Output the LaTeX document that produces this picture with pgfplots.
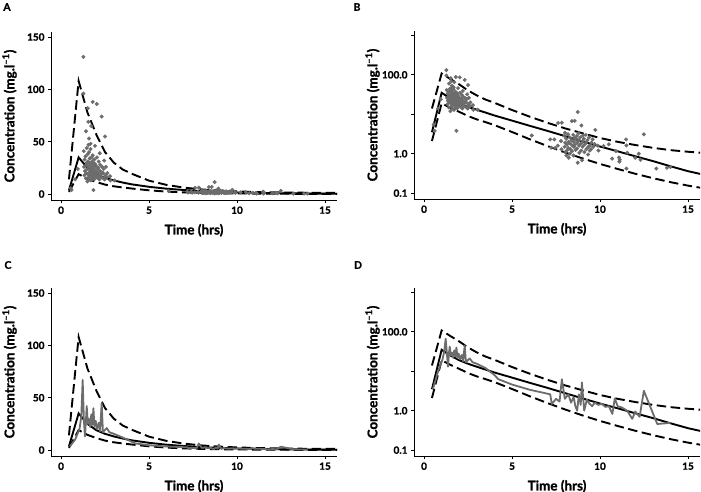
\documentclass[border=0pt]{standalone}
\usepackage{pgfplots}
\pgfplotsset{compat=1.18}
\usepackage{pgfplotstable}
\usepackage{fontspec}
\setmainfont{Lato}[BoldFeatures={FakeBold=1.3}]

\definecolor{obsgray}{RGB}{108,108,108}

% model percentiles: 5th, median, 95th
\pgfplotstableread{
x lo med hi
0.45 2.1 3.5 14
1.0 19 35 108
1.5 14.5 25 78
2.0 11.5 19 57
2.5 9.0 15.5 40
3.0 7.4 13 30
3.5 6.3 11 23.5
4.0 5.3 9.3 19.5
5.0 3.55 6.9 12.8
6.0 2.33 5.1 8.7
7.0 1.57 3.8 6.1
8.0 1.08 2.8 4.4
9.0 0.76 2.05 3.3
10.0 0.55 1.52 2.5
11.0 0.41 1.15 2.0
12.0 0.31 0.86 1.66
13.0 0.24 0.65 1.41
14.0 0.19 0.48 1.23
15.0 0.155 0.36 1.12
15.8 0.135 0.30 1.05
}\curves

% observed concentrations
\pgfplotstableread{
x y
0.60 3.8
0.55 5.5
0.80 14
0.95 24
1.27 131
1.27 96
1.52 82
1.80 88
2.03 86
2.31 74
1.55 69
1.72 65
2.50 55
1.59 53
1.42 60
1.68 48
1.93 46
1.84 3.8
1.33 18
1.31 26
1.34 33
1.29 41
1.36 22
1.41 15
1.44 28
1.39 36
1.46 44
1.43 20
1.47 30
1.50 12
1.52 19
1.49 24
1.53 31
1.51 38
1.56 47
1.54 27
1.57 16
1.61 14
1.62 21
1.60 26
1.63 34
1.59 40
1.64 29
1.66 18
1.65 23
1.70 13
1.72 17
1.69 22
1.71 28
1.73 35
1.68 43
1.74 25
1.76 20
1.75 31
1.79 15
1.81 19
1.78 24
1.82 30
1.80 37
1.83 27
1.86 21
1.85 17
1.88 14
1.91 18
1.90 23
1.92 29
1.89 33
1.94 26
1.96 20
2.00 16
2.02 21
1.99 27
2.04 35
2.06 19
2.08 24
2.11 15
2.10 20
2.12 25
2.14 31
2.13 18
2.19 17
2.21 22
2.22 28
2.18 14
2.29 16
2.31 21
2.33 26
2.28 19
2.41 15
2.39 20
2.42 24
2.52 18
2.55 26
2.48 14
2.61 16
2.63 20
2.80 13
2.78 17
3.05 13
2.20 39
2.45 32
6.12 2.9
7.17 2.3
7.22 1.42
7.40 2.3
7.45 1.4
7.62 6.0
7.60 1.6
7.83 6.1
7.78 2.1
7.81 1.3
7.98 2.8
8.02 1.9
7.99 1.5
8.03 1.1
8.01 3.4
8.08 2.4
8.12 1.7
8.11 1.2
8.09 0.9
8.18 3.1
8.21 2.0
8.19 1.4
8.22 0.79
8.28 2.6
8.31 1.8
8.32 1.3
8.29 1.0
8.40 6.7
8.38 2.2
8.42 1.6
8.41 1.15
8.48 3.0
8.51 2.0
8.52 1.5
8.49 0.9
8.53 2.5
8.56 6.8
8.62 2.4
8.58 1.7
8.61 1.25
8.73 11.4
8.68 2.8
8.71 1.9
8.69 1.35
8.73 0.59
8.79 2.2
8.81 1.6
8.82 1.05
8.78 3.3
8.94 5.2
8.88 2.6
8.91 1.8
8.92 1.2
8.97 0.68
9.02 2.1
9.01 1.5
9.03 2.9
9.08 2.4
9.12 1.7
9.11 1.1
9.19 3.0
9.21 1.9
9.22 1.3
9.28 2.2
9.31 1.45
9.32 0.95
9.38 2.6
9.41 1.6
9.42 1.2
9.51 1.9
9.49 1.3
9.58 2.3
9.61 1.5
9.73 4.0
9.69 1.75
9.88 1.6
9.91 1.2
10.2 1.56
10.5 1.73
10.69 0.75
10.9 1.16
11.08 0.8
11.10 0.63
11.12 0.7
11.48 2.3
11.50 1.62
11.54 1.06
11.50 0.42
12.0 0.79
12.2 1.0
12.3 0.7
12.49 3.1
13.2 0.42
13.8 0.44
14.0 0.46
}\obs

% observed profile (connected)
\pgfplotstableread{
x y
0.50 3.5
0.80 10
1.05 20
1.15 32
1.23 67
1.30 28
1.36 13
1.42 30
1.46 42
1.52 25
1.58 30
1.65 22
1.72 34
1.78 24
1.84 40
1.90 22
1.97 28
2.05 20
2.15 26
2.22 18
2.31 45
2.38 17
2.48 19
2.60 21
2.75 17
3.00 15.5
3.50 12
4.00 8
4.22 6.3
5.00 4.6
6.00 3.4
7.17 2.6
7.26 1.48
7.50 2.0
7.70 1.7
7.83 6.3
8.00 2.0
8.20 2.6
8.35 1.6
8.50 2.2
8.60 1.3
8.70 1.0
8.80 2.6
8.90 1.4
8.97 5.2
9.10 1.0
9.25 1.9
9.40 1.5
9.55 1.3
9.70 1.6
9.90 1.4
10.10 1.5
10.30 1.25
10.50 1.3
10.70 0.83
10.84 2.05
11.00 1.3
11.25 1.2
11.54 1.0
11.83 0.62
12.00 0.95
12.25 0.7
12.49 3.2
13.25 0.46
14.00 0.49
}\profile

\pgfplotsset{
  pkaxis/.style={
    scale only axis, width=286bp, height=168bp,
    axis lines=left, axis line style={-, line width=0.7bp},
    tick align=outside, major tick length=3bp,
    tick style={black, line width=0.7bp},
    xmin=-0.57, xmax=15.68, xtick={0,5,10,15},
    xlabel={Time (hrs)},
    ylabel={Concentration (mg.l\textsuperscript{--1})},
    tick label style={font=\fontsize{10}{11}\selectfont\bfseries},
    label style={font=\fontsize{13.5}{14}\selectfont\bfseries},
    xlabel style={at={(axis description cs:0.5,-0.18)}, anchor=center},
    ylabel style={at={(axis description cs:-0.145,0.5)}, anchor=center},
    /pgf/number format/assume math mode=true,
  },
  pklin/.style={ymin=-5.7, ymax=154.8, ytick={0,50,100,150}},
  pkhi/.style={black, line width=1.9bp, dash pattern=on 9.5bp off 4.5bp},
  pkmed/.style={black, line width=1.9bp},
  pkpts/.style={only marks, mark=*, mark size=1.8bp, color=obsgray},
  pkprof/.style={obsgray, line width=1.8bp, line join=round},
}

\begin{document}
\begin{tikzpicture}
\path[use as bounding box] (0,0) rectangle (701bp,-492bp);

\node[font=\fontsize{10.5}{11}\selectfont\bfseries] at (7bp,-7bp) {A};
\node[font=\fontsize{10.5}{11}\selectfont\bfseries] at (357bp,-7bp) {B};
\node[font=\fontsize{10.5}{11}\selectfont\bfseries] at (8bp,-265bp) {C};
\node[font=\fontsize{10.5}{11}\selectfont\bfseries] at (358bp,-265bp) {D};

% A
\begin{axis}[pkaxis, pklin, at={(51bp,-200bp)}, anchor=south west]
\addplot[pkhi] table[x=x,y=hi]{\curves};
\addplot[pkhi] table[x=x,y=lo]{\curves};
\addplot[pkmed] table[x=x,y=med]{\curves};
\addplot[pkpts] table[x=x,y=y]{\obs};
\end{axis}

% B
\begin{axis}[pkaxis, ymode=log, ymin=0.071, ymax=1290,
    ytick={0.1,1,10,100,1000}, yticklabels={0.1,1.0,,100.0,},
    yminorticks=false, at={(414bp,-199bp)}, anchor=south west]
\addplot[pkhi] table[x=x,y=hi]{\curves};
\addplot[pkhi] table[x=x,y=lo]{\curves};
\addplot[pkmed] table[x=x,y=med]{\curves};
\addplot[pkpts] table[x=x,y=y]{\obs};
\end{axis}

% C
\begin{axis}[pkaxis, pklin, at={(51bp,-456bp)}, anchor=south west]
\addplot[pkhi] table[x=x,y=hi]{\curves};
\addplot[pkhi] table[x=x,y=lo]{\curves};
\addplot[pkmed] table[x=x,y=med]{\curves};
\addplot[pkprof] table[x=x,y=y]{\profile};
\end{axis}

% D
\begin{axis}[pkaxis, ymode=log, ymin=0.071, ymax=1290,
    ytick={0.1,1,10,100,1000}, yticklabels={0.1,1.0,,100.0,},
    yminorticks=false, at={(414bp,-456bp)}, anchor=south west]
\addplot[pkhi] table[x=x,y=hi]{\curves};
\addplot[pkhi] table[x=x,y=lo]{\curves};
\addplot[pkmed] table[x=x,y=med]{\curves};
\addplot[pkprof] table[x=x,y=y]{\profile};
\end{axis}
\end{tikzpicture}
\end{document}
